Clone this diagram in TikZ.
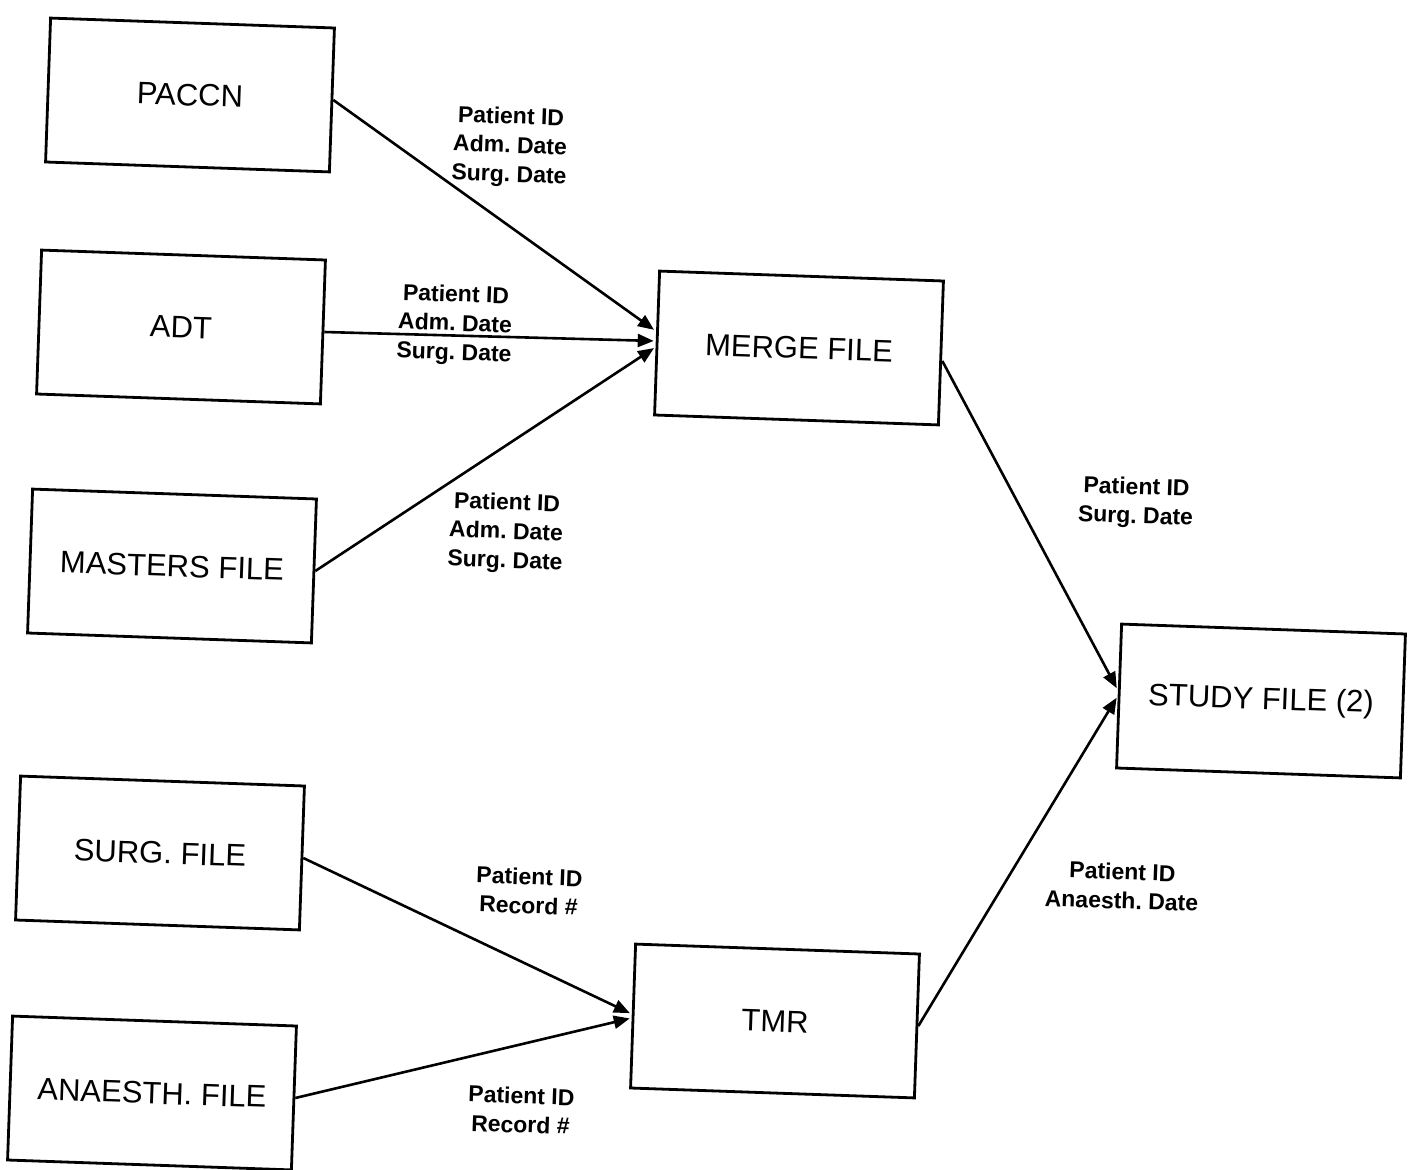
\documentclass[tikz,border=0pt]{standalone}
\usepackage{fontspec}
\setmainfont{Liberation Sans}
\usetikzlibrary{arrows.meta}
\frenchspacing
\begin{document}
\begin{tikzpicture}[x=0.5pt,y=-0.5pt,
  filebox/.style={draw, line width=1.4pt, rotate=-2, minimum width=142pt,
    minimum height=72pt, inner sep=0pt, font=\fontsize{15.5}{18}\selectfont},
  fields/.style={rotate=-2, align=center, inner sep=0pt,
    font=\fontsize{11.5}{14.5}\selectfont\bfseries},
  flow/.style={line width=1.3pt, -{Triangle[length=8pt,width=6.5pt]}, shorten >=1pt}]
\useasboundingbox (0,0) rectangle (1412,1170);

% source and target files
\node[filebox] (paccn)   at (190,95)   {PACCN};
\node[filebox] (adt)     at (181,327)  {ADT};
\node[filebox] (masters) at (172,566)  {MASTERS FILE};
\node[filebox] (surg)    at (160,853)  {SURG. FILE};
\node[filebox] (anaes)   at (152,1093) {ANAESTH. FILE};
\node[filebox] (merge)   at (799,348)  {MERGE FILE};
\node[filebox] (tmr)     at (775,1021) {TMR};
\node[filebox] (study)   at (1261,701) {STUDY FILE (2)};

% data flows
\draw[flow] (paccn.east)   -- ([yshift=6pt]merge.west);
\draw[flow] (adt.east)     -- ([yshift=1pt]merge.west);
\draw[flow] (masters.east) -- ([yshift=-2pt]merge.west);
\draw[flow] ([yshift=-4pt]merge.east) -- ([yshift=3pt]study.west);
\draw[flow] (tmr.east)     -- (study.west);
\draw[flow] (surg.east)    -- ([yshift=1pt]tmr.west);
\draw[flow] (anaes.east)   -- ([yshift=-1pt]tmr.west);

% key fields carried by each flow
\node[fields] (l1) at (510,147)  {Patient ID\\Adm. Date\\Surg. Date};
\node[fields] (l2) at (455,325)  {Patient ID\\Adm. Date\\Surg. Date};
\node[fields] (l3) at (506,533)  {Patient ID\\Adm. Date\\Surg. Date};
\node[fields] (l4) at (1136,503) {Patient ID\\Surg. Date};
\node[fields] (l5) at (529,891)  {Patient ID\\Record \#};
\node[fields] (l6) at (521,1110) {Patient ID\\Record \#};
\node[fields] (l7) at (1122,886) {Patient ID\\Anaesth. Date};
\end{tikzpicture}
\end{document}
